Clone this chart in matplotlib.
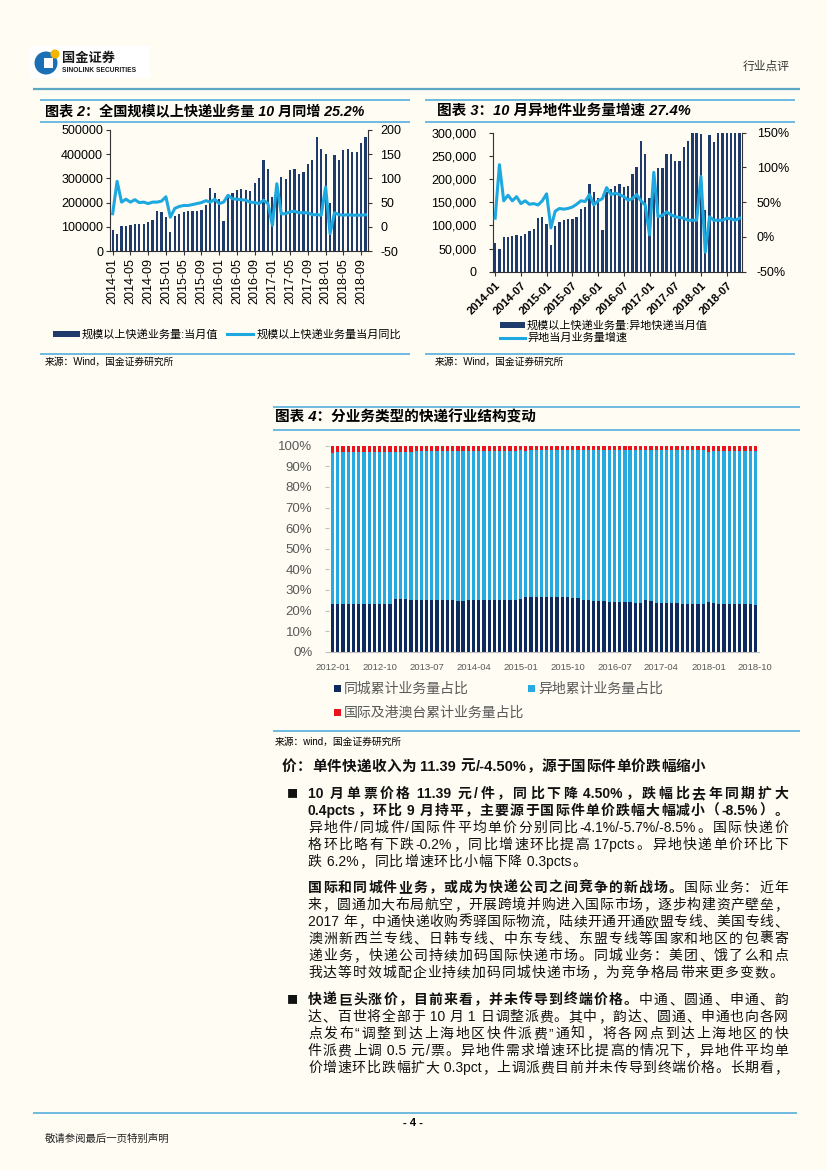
import numpy as np
import matplotlib
matplotlib.use('Agg')
import matplotlib.pyplot as plt
from matplotlib.patches import Rectangle, Circle
from matplotlib.ticker import StrMethodFormatter

plt.rcParams['font.family'] = ['Liberation Sans', 'Noto Sans CJK SC']
plt.rcParams['axes.unicode_minus'] = False

W, H = 827, 1170
BG = '#FFFCF3'
NAVY = '#1F3B6B'
CYAN = '#1EA8E0'
RULE = '#45A8DA'
SPINE = '#333333'

# ---- 图表2 / 图表3 : 2014-01 .. 2018-10
months_a = ['%d-%02d' % (y, m) for y in range(2014, 2019) for m in range(1, 13)][:58]

vol_total = [86000, 69000, 102000, 105000, 108000, 111000, 110000, 111000, 120000, 127000, 165000, 162000,
             141000, 80000, 145000, 153000, 162000, 164000, 165000, 166000, 170000, 191000, 260000, 240000,
             216000, 124000, 235000, 238000, 252000, 255000, 252000, 249000, 282000, 300000, 376000, 339000,
             222000, 245000, 304000, 296000, 335000, 338000, 318000, 326000, 360000, 376000, 470000, 420000,
             400000, 200000, 395000, 376000, 416000, 420000, 410000, 410000, 445000, 470000]
yoy_total = [27, 94, 51, 57, 51, 56, 50, 51, 48, 51, 51, 53,
             62, 20, 38, 42, 44, 44, 46, 48, 50, 54, 51, 57,
             48, 51, 65, 58, 57, 56, 55, 51, 50, 48, 55, 48,
             3, 89, 27, 27, 31, 32, 29, 29, 29, 25, 25, 24,
             82, -14, 29, 25, 24, 25, 24, 24, 24, 25]

vol_remote = [62000, 50000, 74000, 75500, 78000, 80000, 78000, 80500, 88000, 92000, 116500, 119000,
              103000, 57000, 98500, 107000, 111500, 114000, 114000, 119000, 134500, 139000, 189000, 173000,
              160000, 90000, 172000, 178000, 186000, 188500, 183500, 186000, 211000, 226000, 283000, 255000,
              158000, 172000, 223000, 223000, 255000, 253000, 240000, 240000, 270000, 282000, 365000, 330000,
              297000, 133000, 294000, 281000, 310000, 315000, 305000, 308000, 335000, 352000]
yoy_remote = [27, 104, 52, 60, 52, 58, 48, 52, 47, 48, 46, 52,
              62, 13, 37, 41, 40, 41, 43, 47, 52, 51, 61, 46,
              52, 55, 71, 61, 63, 61, 58, 53, 55, 61, 52, 46,
              3, 93, 29, 31, 36, 32, 29, 28, 27, 24, 24, 24,
              87, -22, 29, 24, 24, 24, 27, 26, 24, 27]

# ---- 图表4 : 2012-01 .. 2018-10, cumulative shares (%)
months_b = ['%d-%02d' % (y, m) for y in range(2012, 2019) for m in range(1, 13)][:82]
share_local = [23.2, 23.1, 23.0, 23.1, 23.1, 23.0, 23.1, 23.1, 23.0, 23.1, 23.1, 23.1,
               25.5, 25.7, 25.6, 25.2, 25.1, 25.1, 25.1, 25.0, 25.1, 25.1, 25.0, 25.1,
               24.7, 24.8, 24.9, 24.9, 24.9, 25.0, 25.0, 25.0, 24.9, 24.9, 25.0, 25.1,
               25.8, 26.6, 26.7, 26.7, 26.6, 26.7, 26.6, 26.6, 26.6, 26.5, 26.2, 26.0,
               25.2, 24.9, 24.6, 24.5, 24.4, 24.3, 24.3, 24.2, 24.0, 23.9, 23.8, 23.6,
               25.0, 24.7, 23.7, 23.5, 23.4, 23.4, 23.4, 23.3, 23.3, 23.3, 23.2, 23.1,
               24.3, 23.4, 23.2, 23.1, 23.1, 23.1, 23.1, 23.0, 23.0, 22.8]
share_intl = [3.4, 3.3, 3.3, 3.3, 3.3, 3.3, 3.3, 3.3, 3.2, 3.2, 3.2, 3.2,
              2.9, 3.0, 2.9, 2.9, 2.8, 2.8, 2.8, 2.8, 2.8, 2.7, 2.7, 2.7,
              2.5, 2.6, 2.5, 2.5, 2.5, 2.5, 2.5, 2.5, 2.4, 2.4, 2.4, 2.4,
              2.3, 2.4, 2.3, 2.3, 2.3, 2.3, 2.2, 2.2, 2.2, 2.2, 2.2, 2.2,
              2.1, 2.2, 2.1, 2.1, 2.1, 2.1, 2.1, 2.1, 2.1, 2.1, 2.1, 2.1,
              2.0, 2.3, 2.2, 2.2, 2.2, 2.2, 2.2, 2.2, 2.2, 2.2, 2.3, 2.3,
              2.9, 2.6, 2.5, 2.4, 2.4, 2.4, 2.4, 2.4, 2.4, 2.4]
# remaining share of the 100% stack
share_remote = [round(100 - a - b, 1) for a, b in zip(share_local, share_intl)]


def ax_rect(l, t, r, b):
    return [l / W, 1 - b / H, (r - l) / W, (b - t) / H]


fig = plt.figure(figsize=(W / 100, H / 100), dpi=100, facecolor=BG)
pg = fig.add_axes([0, 0, 1, 1], zorder=0)
pg.set_xlim(0, W)
pg.set_ylim(H, 0)
pg.axis('off')
rend = fig.canvas.get_renderer()


def hline(x0, x1, y, color=RULE, lw=1.1):
    pg.plot([x0, x1], [y, y], color=color, lw=lw, solid_capstyle='butt')


# ---------------- header
pg.add_patch(Rectangle((30, 46), 120, 32, color='white', lw=0))
pg.add_patch(Circle((46, 63), 11.5, color='#1B6FB5', lw=0))
pg.add_patch(Rectangle((44, 58), 9, 10, color='white', lw=0))
pg.add_patch(Circle((55, 54), 4.5, color='#F4B400', lw=0))
pg.text(62, 59, '国金证券', fontsize=9.5, fontweight='bold', va='center', color='#1a1a1a')
pg.text(62, 71, 'SINOLINK SECURITIES', fontsize=4.8, fontweight='bold', va='center', color='#1a1a1a')
pg.text(790, 67, '行业点评', fontsize=8.5, ha='right', va='center', color='#333333')
hline(33, 800, 89, color='#5AA7C4', lw=1.6)

# ---------------- chart titles / rules
hline(40, 410, 100)
hline(40, 410, 122)
pg.text(45, 111, '图表 2：全国规模以上快递业务量 10 月同增 25.2%', fontsize=10.2,
        fontweight='bold', style='italic', va='center')
hline(40, 410, 354)
pg.text(45, 362, '来源：Wind，国金证券研究所', fontsize=7, va='center')

hline(425, 795, 100)
hline(425, 795, 122)
pg.text(437, 111, '图表 3：10 月异地件业务量增速 27.4%', fontsize=10.5,
        fontweight='bold', style='italic', va='center')
hline(425, 795, 354)
pg.text(435, 362, '来源：Wind，国金证券研究所', fontsize=7, va='center')

hline(273, 800, 407)
hline(273, 800, 430)
pg.text(275, 417, '图表 4：分业务类型的快递行业结构变动', fontsize=10.5,
        fontweight='bold', style='italic', va='center')
hline(273, 800, 731)
pg.text(275, 742, '来源：wind，国金证券研究所', fontsize=7, va='center')

# ---------------- chart 2
xa = np.arange(len(months_a))
ax2 = fig.add_axes(ax_rect(110, 130, 368, 251))
ax2.patch.set_alpha(0)
ax2.bar(xa, vol_total, width=0.5, color=NAVY)
ax2.set_xlim(-0.6, len(xa) - 0.45)
ax2.set_ylim(0, 500000)
ax2.set_yticks(np.arange(0, 500001, 100000))
ax2.yaxis.set_major_formatter(StrMethodFormatter('{x:.0f}'))
ax2.set_xticks(xa[::4])
ax2.set_xticklabels(months_a[::4], rotation=90, fontsize=9)
ax2.tick_params(axis='y', labelsize=9, length=3, pad=2, color=SPINE)
ax2.tick_params(axis='x', length=3, pad=2, color=SPINE)
ax2.spines['top'].set_visible(False)
ax2.spines['right'].set_visible(False)
ax2.spines['left'].set_color(SPINE)
ax2.spines['bottom'].set_color(SPINE)
ax2r = ax2.twinx()
ax2r.plot(xa, yoy_total, color=CYAN, lw=2.2)
ax2r.set_ylim(-50, 200)
ax2r.set_yticks([-50, 0, 50, 100, 150, 200])
ax2r.tick_params(axis='y', labelsize=9, length=3, pad=6, color=SPINE)
for s in ['top', 'left', 'bottom']:
    ax2r.spines[s].set_visible(False)
ax2r.spines['right'].set_color(SPINE)

pg.add_patch(Rectangle((53, 331), 27, 6, color=NAVY, lw=0))
pg.text(82, 334, '规模以上快递业务量:当月值', fontsize=8, va='center')
pg.plot([227, 253], [334, 334], color=CYAN, lw=2.2)
pg.text(257, 334, '规模以上快递业务量当月同比', fontsize=8, va='center')

# ---------------- chart 3
ax3 = fig.add_axes(ax_rect(493, 132.7, 741.7, 271.7))
ax3.patch.set_alpha(0)
ax3.bar(xa, vol_remote, width=0.55, color=NAVY)
ax3.set_xlim(-0.5, len(xa) - 0.5)
ax3.set_ylim(0, 300000)
ax3.set_yticks(np.arange(0, 300001, 50000))
ax3.yaxis.set_major_formatter(StrMethodFormatter('{x:,.0f}'))
ax3.set_xticks(xa[::6])
ax3.set_xticklabels(months_a[::6], rotation=45, ha='right', rotation_mode='anchor',
                    fontsize=8, fontweight='bold')
ax3.tick_params(axis='y', labelsize=9, length=3, pad=9, color=SPINE)
ax3.tick_params(axis='x', length=3, pad=3, color=SPINE)
ax3.spines['top'].set_visible(False)
ax3.spines['right'].set_visible(False)
ax3.spines['left'].set_color(SPINE)
ax3.spines['bottom'].set_color(SPINE)
ax3r = ax3.twinx()
ax3r.plot(xa, yoy_remote, color=CYAN, lw=2.2)
ax3r.set_ylim(-50, 150)
ax3r.set_yticks([-50, 0, 50, 100, 150])
ax3r.yaxis.set_major_formatter(StrMethodFormatter('{x:.0f}%'))
ax3r.tick_params(axis='y', labelsize=9, length=3, pad=8, color=SPINE)
for s in ['top', 'left', 'bottom']:
    ax3r.spines[s].set_visible(False)
ax3r.spines['right'].set_color(SPINE)

pg.add_patch(Rectangle((500, 322), 25, 6, color=NAVY, lw=0))
pg.text(527, 325, '规模以上快递业务量:异地快递当月值', fontsize=8, va='center')
pg.plot([500, 525], [338, 338], color=CYAN, lw=2.2)
pg.text(527, 338, '异地当月业务量增速', fontsize=8, va='center')

# ---------------- chart 4
DARK4, BLUE4, RED4 = '#0E2A5E', '#27AAE1', '#E8131B'
xb = np.arange(len(months_b))
loc = np.array(share_local)
rem = np.array(share_remote)
ax4 = fig.add_axes(ax_rect(329, 445.7, 759, 651.7))
ax4.patch.set_alpha(0)
ax4.bar(xb, loc, width=0.62, color=DARK4)
ax4.bar(xb, rem, bottom=loc, width=0.62, color=BLUE4)
ax4.bar(xb, share_intl, bottom=loc + rem, width=0.62, color=RED4)
ax4.set_xlim(-0.7, len(xb) - 0.3)
ax4.set_ylim(0, 100)
ax4.set_yticks(np.arange(0, 101, 10))
ax4.yaxis.set_major_formatter(StrMethodFormatter('{x:.0f}%'))
ax4.set_xticks(xb[::9])
ax4.set_xticklabels(months_b[::9], fontsize=6.8, color='#595959')
ax4.tick_params(axis='y', labelsize=9.5, labelcolor='#595959', length=3, pad=9, color='#BFBFBF')
ax4.tick_params(axis='x', length=0, pad=8)
for s in ['top', 'right', 'left']:
    ax4.spines[s].set_visible(False)
ax4.spines['bottom'].set_color('#BFBFBF')

for (lx, ly, col, lab) in [(334, 689, DARK4, '同城累计业务量占比'),
                           (528, 689, BLUE4, '异地累计业务量占比'),
                           (334, 713, RED4, '国际及港澳台累计业务量占比')]:
    pg.add_patch(Rectangle((lx, ly - 4), 7, 7, color=col, lw=0))
    pg.text(lx + 10, ly, lab, fontsize=10, va='center', color='#595959')


# ---------------- body text
def tokens(segs):
    out = []
    for txt, bold in segs:
        buf = ''
        for ch in txt:
            if ord(ch) > 0x2000:
                if buf.strip():
                    out.append((buf, bold))
                buf = ''
                out.append((ch, bold))
            else:
                buf += ch
        if buf.strip():
            out.append((buf, bold))
    return out


def put_line(segs, y, x0=308, x1=788, just=True, size=10, gap=1.0):
    toks = tokens(segs)
    objs = [pg.text(0, y, t, fontsize=size, fontweight='bold' if b else 'normal',
                    va='center', ha='left', color='#111111') for t, b in toks]
    ws = [o.get_window_extent(renderer=rend).width for o in objs]
    if just and len(objs) > 1:
        gap = (x1 - x0 - sum(ws)) / (len(objs) - 1)
    x = x0
    for o, w in zip(objs, ws):
        o.set_x(x)
        x += w + gap


put_line([('价：单件快递收入为 11.39 元/-4.50%，源于国际件单价跌幅缩小', True)], 767, x0=282,
         just=False, size=10.5, gap=0.3)

body1 = [
    ([('10 月单票价格 11.39 元/件，同比下降 4.50%，跌幅比去年同期扩大', True)], True),
    ([('0.4pcts，环比 9 月持平，主要源于国际件单价跌幅大幅减小（-8.5%）。', True)], True),
    ([('异地件/同城件/国际件平均单价分别同比-4.1%/-5.7%/-8.5%。国际快递价', False)], True),
    ([('格环比略有下跌-0.2%，同比增速环比提高 17pcts。异地快递单价环比下', False)], True),
    ([('跌 6.2%，同比增速环比小幅下降 0.3pcts。', False)], False),
]
body2 = [
    ([('国际和同城件业务，或成为快递公司之间竞争的新战场。', True), ('国际业务：近年', False)], True),
    ([('来，圆通加大布局航空，开展跨境并购进入国际市场，逐步构建资产壁垒，', False)], True),
    ([('2017 年，中通快递收购秀驿国际物流，陆续开通开通欧盟专线、美国专线、', False)], True),
    ([('澳洲新西兰专线、日韩专线、中东专线、东盟专线等国家和地区的包裹寄', False)], True),
    ([('递业务，快递公司持续加码国际快递市场。同城业务：美团、饿了么和点', False)], True),
    ([('我达等时效城配企业持续加码同城快递市场，为竞争格局带来更多变数。', False)], False),
]
body3 = [
    ([('快递巨头涨价，目前来看，并未传导到终端价格。', True), ('中通、圆通、申通、韵', False)], True),
    ([('达、百世将全部于 10 月 1 日调整派费。其中，韵达、圆通、申通也向各网', False)], True),
    ([('点发布“调整到达上海地区快件派费”通知，将各网点到达上海地区的快', False)], True),
    ([('件派费上调 0.5 元/票。异地件需求增速环比提高的情况下，异地件平均单', False)], True),
    ([('价增速环比跌幅扩大 0.3pct，上调派费目前并未传导到终端价格。长期看，', False)], True),
]

for y0, block, bullet in [(794, body1, True), (888, body2, False), (1000, body3, True)]:
    if bullet:
        pg.text(292, y0, '■', fontsize=8, ha='center', va='center', color='#111111',
                family='Noto Sans CJK SC')
    for k, (segs, j) in enumerate(block):
        put_line(segs, y0 + 17 * k, just=j)

# ---------------- footer
hline(33, 797, 1113)
pg.text(413, 1123, '- 4 -', fontsize=8, fontweight='bold', ha='center', va='center')
pg.text(45, 1139, '敬请参阅最后一页特别声明', fontsize=7.5, va='center', color='#222222')

fig.savefig('out.png', dpi=100, facecolor=BG)
